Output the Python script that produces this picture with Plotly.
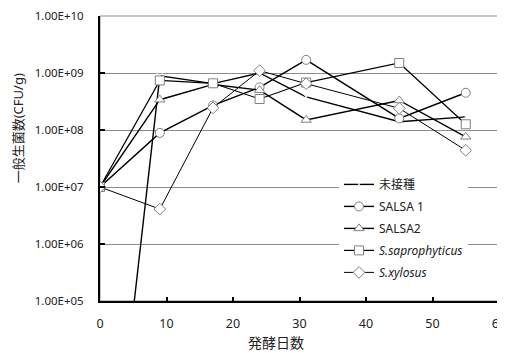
import plotly.graph_objects as go

days = [0, 9, 17, 24, 31, 45, 55]

uninoculated = [0.5, 8.9e8, 6.5e8, 1.0e9, 3.8e8, 1.4e8, 1.7e8]
salsa1 = [1.0e7, 8.9e7, 2.7e8, 5.6e8, 1.7e9, 1.6e8, 4.5e8]
salsa2 = [1.0e7, 3.4e8, 6.3e8, 5.0e8, 1.5e8, 3.3e8, 7.6e7]
saprophyticus = [1.0e7, 7.4e8, 6.6e8, 3.5e8, 6.8e8, 1.5e9, 1.26e8]
xylosus = [1.0e7, 4.1e6, 2.45e8, 1.1e9, 6.5e8, 2.4e8, 4.4e7]

series_names = ["未接種", "SALSA 1", "SALSA2", "<i>S.saprophyticus</i>", "<i>S.xylosus</i>"]

y_tickvals = [1e5, 1e6, 1e7, 1e8, 1e9, 1e10]
y_ticktext = ["1.00E+05", "1.00E+06", "1.00E+07", "1.00E+08", "1.00E+09", "1.00E+10"]
x_tickvals = [0, 10, 20, 30, 40, 50, 60]

x_title = "発酵日数"
y_title = "一般生菌数(CFU/g)"

FONT = "Noto Sans, Noto Sans CJK JP, sans-serif"

styles = [
    dict(symbol="x-thin-open", size=9, lw=1.4),
    dict(symbol="circle", size=9, lw=1.4),
    dict(symbol="triangle-up", size=9, lw=1.4),
    dict(symbol="square", size=9, lw=1.2),
    dict(symbol="diamond", size=9, lw=1.0),
]
data = [uninoculated, salsa1, salsa2, saprophyticus, xylosus]

fig = go.Figure()
for i, (name, vals, st) in enumerate(zip(series_names, data, styles)):
    fig.add_trace(go.Scatter(
        x=days, y=vals, name=name, mode="lines+markers",
        legendgroup=f"g{i}",
        line=dict(color="black", width=st["lw"]),
        marker=dict(symbol=st["symbol"], size=st["size"], color="white",
                    line=dict(color="#7f7f7f", width=1)),
    ))

# page body adds an 8px offset; plot area placed to match the 505x353 window
fig.update_layout(
    width=505, height=345,
    margin=dict(l=92, r=14, t=8, b=52, autoexpand=False),
    paper_bgcolor="white", plot_bgcolor="white",
    font=dict(family=FONT, size=12, color="#222"),
    showlegend=True,
    legend=dict(x=0.599, y=0.46, xanchor="left", yanchor="top",
                bgcolor="white", borderwidth=0,
                tracegroupgap=3,
                font=dict(family=FONT, size=12, color="#222")),
    xaxis=dict(range=[0, 60], tickvals=x_tickvals, automargin=False,
               showgrid=False, zeroline=False,
               showline=True, linecolor="black", linewidth=2,
               ticks="inside", ticklen=4, tickwidth=2, tickcolor="black",
               ticklabelstandoff=10, ticklabeloverflow="allow",
               tickfont=dict(size=12.5, family=FONT, color="#222")),
    yaxis=dict(type="log", range=[5, 10], tickvals=y_tickvals, ticktext=y_ticktext,
               automargin=False,
               showgrid=True, gridcolor="#8c8c8c", gridwidth=1,
               zeroline=False,
               showline=True, linecolor="black", linewidth=2,
               ticks="inside", ticklen=5, tickwidth=2, tickcolor="black",
               ticklabelstandoff=12, ticklabeloverflow="allow",
               tickfont=dict(size=11.5, family=FONT, color="#222")),
    shapes=[dict(type="rect", xref="paper", yref="paper", x0=0, x1=1, y0=0, y1=1,
                 line=dict(color="#8c8c8c", width=1), layer="below")],
    annotations=[
        dict(text=x_title, xref="paper", yref="paper", x=(276 - 100) / 399, y=-0.145,
             xanchor="center", yanchor="middle", showarrow=False,
             font=dict(size=14, family=FONT, color="#222")),
        dict(text=y_title, xref="paper", yref="paper", x=-0.2055, y=0.606,
             xanchor="center", yanchor="middle", showarrow=False, textangle=-90,
             font=dict(size=13, family=FONT, color="#222")),
    ],
)

fig.write_html(
    "out.html",
    post_script="document.documentElement.style.overflow='hidden';document.body.style.overflow='hidden';",
)
